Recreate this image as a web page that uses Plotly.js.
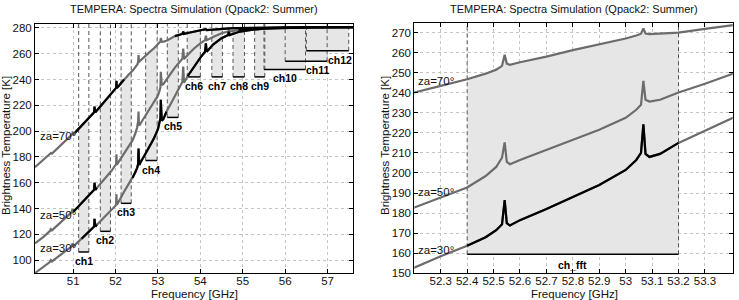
<!DOCTYPE html>
<html>
<head>
<meta charset="utf-8">
<script src="https://cdn.plot.ly/plotly-3.0.1.min.js"></script>
<style>
  html, body { margin: 0; padding: 0; background: #fff; }
  #chart { width: 739px; height: 300px; }
</style>
</head>
<body>
<div id="chart"></div>
<script>
// Simulated brightness temperature spectra (K) for three zenith angles
const freqGHz = [50.10, 50.30, 50.45, 50.474, 50.50, 50.70, 50.96, 50.987, 51.01, 51.05,
  51.20, 51.35, 51.475, 51.495, 51.503, 51.511, 51.525, 51.56, 51.75, 51.90,
  51.995, 52.013, 52.021, 52.029, 52.043, 52.08, 52.20, 52.30, 52.40, 52.47,
  52.51, 52.532, 52.542, 52.550, 52.562, 52.60, 52.70, 52.80, 52.90, 53.00,
  53.04, 53.058, 53.067, 53.075, 53.09, 53.13, 53.20, 53.30, 53.40, 53.50,
  53.575, 53.596, 53.615, 53.70, 53.85, 54.00, 54.11, 54.130, 54.15, 54.30,
  54.50, 54.655, 54.671, 54.69, 54.90, 55.20, 55.50, 56.00, 56.50, 57.00, 57.60];

const tbZa30 = [90, 94.5, 98.5, 100, 99, 104, 110.5, 113, 111, 112,
  116.5, 121, 125, 126, 132, 126, 126, 127.5, 133.5, 138.5,
  142, 143, 151, 143, 143.5, 146, 153, 158.5, 163.7, 168,
  171.5, 174.5, 186.5, 175, 173.8, 176.5, 182, 187.8, 194, 201.5,
  206.5, 210, 224.3, 209.5, 208, 209.5, 215, 221, 227.2, 233,
  238, 250, 237.5, 242.5, 250, 257, 261.5, 268, 261.5, 267,
  272, 274.5, 277, 274.5, 276.8, 278.5, 279.4, 280, 280.3, 280.5, 280.6];

const tbZa50 = [113, 118, 122.5, 124, 123, 129, 137, 139.5, 137.6, 139,
  144, 149, 153.5, 154.5, 160, 154.5, 154.5, 156, 163, 169,
  173.5, 174.5, 182, 174.3, 174.5, 176.5, 182.8, 187.8, 192.8, 198.5,
  203, 207.7, 215.2, 205.5, 204.4, 206.5, 211.5, 216.5, 221.5, 227.5,
  231.5, 234, 245.9, 236.5, 235.6, 236.5, 240.1, 244.5, 249.2, 253,
  256, 264, 255.8, 259, 264, 268, 270.5, 274, 270.5, 273,
  275.8, 277.2, 278.5, 277.2, 278.5, 279.4, 279.8, 280.2, 280.4, 280.5, 280.6];

const tbZa70 = [172, 177.5, 182, 183, 182.5, 188.5, 197, 198.5, 197.5, 199,
  204, 209, 213.5, 214.5, 219, 214.5, 214.5, 216, 223, 229,
  232.5, 233.5, 239, 233.5, 233.8, 235.2, 240.1, 243.4, 246.7, 249.5,
  251.5, 253.4, 258.9, 254.5, 253.9, 255.2, 258, 261.2, 264, 267,
  268.5, 269.4, 272.1, 269.5, 269.2, 269.4, 270, 271.8, 273.6, 274.6,
  275.3, 277, 275.3, 276, 277, 277.8, 278.3, 279, 278.3, 278.8,
  279.3, 279.6, 279.8, 279.6, 279.9, 280.1, 280.3, 280.4, 280.5, 280.6, 280.6];

// Frequency spans drawn in black on the overview panel
const blackSpansZa30 = [[51.20, 51.56], [52.40, 53.20], [53.70, 57.60]];
const blackSpansZa50 = [[51.01, 51.56], [54.90, 57.60]];
const blackSpansZa70 = [[51.05, 52.20], [53.40, 57.60]];

// Filter-bank channels: band edges (GHz) and bracket level (K)
const chNames = ['ch1', 'ch2', 'ch3', 'ch4', 'ch5', 'ch6', 'ch7', 'ch8', 'ch9', 'ch10', 'ch11', 'ch12'];
const chLo = [51.13, 51.64, 52.13, 52.71, 53.22, 53.69, 54.27, 54.77, 55.28, 55.50, 56.00, 56.50];
const chHi = [51.37, 51.88, 52.37, 52.98, 53.48, 54.00, 54.52, 55.04, 55.52, 56.48, 56.99, 57.50];
const chFloor = [106.3, 122.3, 144, 177.2, 210.6, 242, 242, 242, 242, 247.8, 254.2, 262.2];

// FFT spectrometer band
const fftName = 'ch_fft';
const fftLo = 52.40;
const fftHi = 53.20;
const fftFloor = 159.5;

const titleText = 'TEMPERA: Spectra Simulation (Qpack2: Summer)';
const xTitle = 'Frequency [GHz]';
const yTitle = 'Brightness Temperature [K]';
const leftXTicks = [51, 52, 53, 54, 55, 56, 57];
const leftYTicks = [100, 120, 140, 160, 180, 200, 220, 240, 260, 280];
const rightXTicks = [52.3, 52.4, 52.5, 52.6, 52.7, 52.8, 52.9, 53.0, 53.1, 53.2, 53.3];
const rightYTicks = [150, 160, 170, 180, 190, 200, 210, 220, 230, 240, 250, 260, 270];

const FONT = 'Liberation Sans, Arial, Helvetica, sans-serif';
const GREY_LINE = '#6c6c6c';
const SHADE = '#e6e6e6';
const leftRangeY = [90, 283];
const rightRangeY = [150, 274.6];

// value of a curve at frequency v (piecewise linear between samples)
function curveAt(v, f, t) {
  for (let i = 1; i < f.length; i++) {
    if (v <= f[i]) {
      const r = (v - f[i - 1]) / (f[i] - f[i - 1]);
      return t[i - 1] + r * (t[i] - t[i - 1]);
    }
  }
  return t[t.length - 1];
}
function sliceCurve(lo, hi, f, t) {
  const xs = [lo], ys = [curveAt(lo, f, t)];
  f.forEach((v, i) => { if (v > lo && v < hi) { xs.push(v); ys.push(t[i]); } });
  xs.push(hi); ys.push(curveAt(hi, f, t));
  return { xs, ys };
}

const traces = [];
function shadeBand(lo, hi, floor, xa, ya) {
  const s = sliceCurve(lo, hi, freqGHz, tbZa70);
  traces.push({
    x: s.xs.concat([hi, lo]), y: s.ys.concat([floor, floor]),
    xaxis: xa, yaxis: ya, mode: 'lines', fill: 'toself', fillcolor: SHADE,
    line: { width: 0 }, hoverinfo: 'skip', showlegend: false
  });
}
function bandEdges(los, his, floors, top, xa, ya) {
  const dx = [], dy = [], bx = [], by = [];
  los.forEach((lo, i) => {
    const hi = his[i], fl = floors[i];
    dx.push(lo, lo, null, hi, hi, null);
    dy.push(fl, top, null, fl, top, null);
    bx.push(lo, hi, null);
    by.push(fl, fl, null);
  });
  traces.push({ x: dx, y: dy, xaxis: xa, yaxis: ya, mode: 'lines',
    line: { color: '#555', width: 1, dash: '4px,3px' }, hoverinfo: 'skip', showlegend: false });
  traces.push({ x: bx, y: by, xaxis: xa, yaxis: ya, mode: 'lines',
    line: { color: '#000', width: 1.5 }, hoverinfo: 'skip', showlegend: false });
}
function curve(t, xa, ya, color) {
  traces.push({ x: freqGHz, y: t, xaxis: xa, yaxis: ya, mode: 'lines',
    line: { color: color, width: 2.2 }, hoverinfo: 'skip', showlegend: false });
}
function blackParts(spans, t, xa, ya) {
  spans.forEach(([lo, hi]) => {
    const s = sliceCurve(lo, hi, freqGHz, t);
    traces.push({ x: s.xs, y: s.ys, xaxis: xa, yaxis: ya, mode: 'lines',
      line: { color: '#000', width: 2.2 }, hoverinfo: 'skip', showlegend: false });
  });
}

// overview panel
chNames.forEach((n, i) => shadeBand(chLo[i], chHi[i], chFloor[i], 'x', 'y'));
bandEdges(chLo, chHi, chFloor, leftRangeY[1], 'x', 'y');
[tbZa30, tbZa50, tbZa70].forEach(t => curve(t, 'x', 'y', GREY_LINE));
blackParts(blackSpansZa30, tbZa30, 'x', 'y');
blackParts(blackSpansZa50, tbZa50, 'x', 'y');
blackParts(blackSpansZa70, tbZa70, 'x', 'y');

// FFT band panel
shadeBand(fftLo, fftHi, fftFloor, 'x2', 'y2');
bandEdges([fftLo], [fftHi], [fftFloor], rightRangeY[1], 'x2', 'y2');
[tbZa30, tbZa50, tbZa70].forEach(t => curve(t, 'x2', 'y2', GREY_LINE));
blackParts([[fftLo, fftHi]], tbZa30, 'x2', 'y2');

const axisCommon = {
  showline: true, linecolor: '#000', linewidth: 1, mirror: 'allticks',
  ticks: 'inside', ticklen: 4, tickcolor: '#000', tickwidth: 1,
  showgrid: true, gridcolor: '#c4c4c4', griddash: 'dot', gridwidth: 1,
  zeroline: false, automargin: false,
  tickfont: { family: FONT, size: 11.5, color: '#111' }
};

const ann = [];
const txt = (o) => ann.push(Object.assign({ showarrow: false, xanchor: 'center', yanchor: 'middle',
  font: { family: FONT, size: 11.5, color: '#111' } }, o));

// panel titles and axis titles
const titleFont = { family: FONT, size: 11, color: '#111' };
txt({ text: titleText, xref: 'paper', yref: 'paper', x: 194 / 739, y: 1 - 9 / 300, font: titleFont });
txt({ text: titleText, xref: 'paper', yref: 'paper', x: 574 / 739, y: 1 - 9 / 300, font: titleFont });
txt({ text: xTitle, xref: 'paper', yref: 'paper', x: 194.5 / 739, y: 1 - 294 / 300 });
txt({ text: xTitle, xref: 'paper', yref: 'paper', x: 574 / 739, y: 1 - 294 / 300 });
txt({ text: yTitle, xref: 'paper', yref: 'paper', x: 6 / 739, y: 1 - 146 / 300, textangle: -90 });
txt({ text: yTitle, xref: 'paper', yref: 'paper', x: 385 / 739, y: 1 - 146 / 300, textangle: -90 });

// zenith angle labels
const zaNames = ['za=70°', 'za=50°', 'za=30°'];
[196, 135, 109.4].forEach((yv, i) => txt({ text: zaNames[i], xref: 'x', yref: 'y', x: 50.17, y: yv, xanchor: 'left' }));
[245.7, 190.6, 161.7].forEach((yv, i) => txt({ text: zaNames[i], xref: 'x2', yref: 'y2', x: 52.205, y: yv, xanchor: 'left' }));

// channel labels
const chFont = { family: FONT, size: 10.5, color: '#000' };
chNames.forEach((n, i) => {
  const right = i >= 10;
  txt({ text: '<b>' + n + '</b>', xref: 'x', yref: 'y',
    x: right ? chHi[i] : (chLo[i] + chHi[i]) / 2, y: chFloor[i],
    xanchor: right ? 'right' : 'center', yanchor: 'top', xshift: right ? 5 : 0, yshift: -1, font: chFont });
});
txt({ text: '<b>' + fftName + '</b>', xref: 'x2', yref: 'y2', x: (fftLo + fftHi) / 2, y: fftFloor,
  yanchor: 'top', yshift: -3, font: chFont });

const layout = {
  width: 739, height: 300,
  margin: { l: 0, r: 0, t: 0, b: 0 },
  paper_bgcolor: '#fff', plot_bgcolor: '#fff',
  showlegend: false,
  xaxis: Object.assign({}, axisCommon, { domain: [35 / 739, 353 / 739], range: [50.1, 57.6], tickvals: leftXTicks, anchor: 'y', ticklabelstandoff: -3 }),
  yaxis: Object.assign({}, axisCommon, { domain: [1 - 273 / 300, 1 - 24 / 300], range: leftRangeY, tickvals: leftYTicks, anchor: 'x' }),
  xaxis2: Object.assign({}, axisCommon, { domain: [414.3 / 739, 732.7 / 739], range: [52.2, 53.405], tickvals: rightXTicks, anchor: 'y2', ticklabelstandoff: -3 }),
  yaxis2: Object.assign({}, axisCommon, { domain: [1 - 273.3 / 300, 1 - 23.3 / 300], range: rightRangeY, tickvals: rightYTicks, anchor: 'x2' }),
  annotations: ann
};

Plotly.newPlot('chart', traces, layout, { displayModeBar: false, staticPlot: true });
</script>
</body>
</html>
